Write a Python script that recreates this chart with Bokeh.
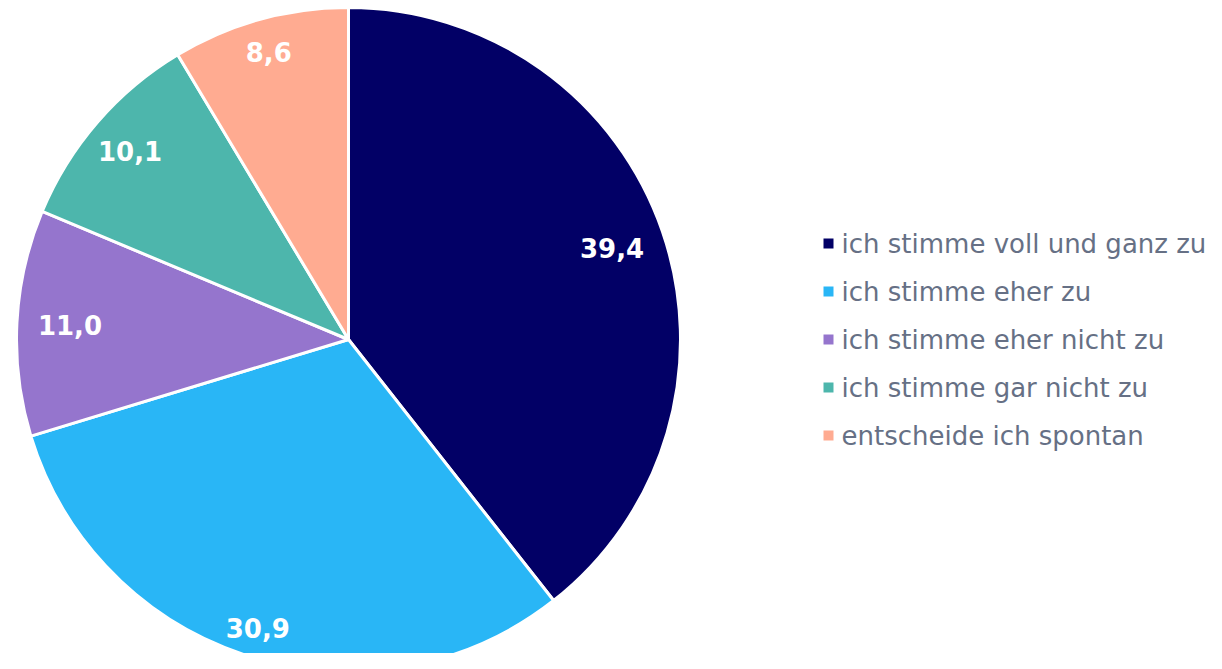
import math
from bokeh.plotting import figure
from bokeh.models import ColumnDataSource, Range1d
from bokeh.core.properties import value
from bokeh.embed import file_html
from bokeh.resources import INLINE

categories = ["ich stimme voll und ganz zu", "ich stimme eher zu", "ich stimme eher nicht zu",
              "ich stimme gar nicht zu", "entscheide ich spontan"]
values = [39.4, 30.9, 11.0, 10.1, 8.6]
labels = ["39,4", "30,9", "11,0", "10,1", "8,6"]
colors = ["#020066", "#29b6f6", "#9575cd", "#4db6ac", "#ffab91"]
label_radius = [0.84, 0.91, 0.84, 0.87, 0.90]

W, H = 1206, 653
cx, cy, r = 348, H - 339, 332

total = sum(values)
starts, ends, lx, ly = [], [], [], []
cum = 0.0
for v, f in zip(values, label_radius):
    a0 = math.pi / 2 - 2 * math.pi * cum / total
    a1 = math.pi / 2 - 2 * math.pi * (cum + v) / total
    starts.append(a0)
    ends.append(a1)
    mid = (a0 + a1) / 2
    lx.append(cx + f * r * math.cos(mid))
    ly.append(cy + f * r * math.sin(mid))
    cum += v

src = ColumnDataSource(dict(start=starts, end=ends, color=colors, lx=lx, ly=ly, label=labels))

p = figure(width=W, height=H, output_backend="svg", toolbar_location=None,
           x_range=Range1d(0, W), y_range=Range1d(0, H), min_border=0)
p.axis.visible = False
p.grid.visible = False
p.outline_line_color = None

p.wedge(x=cx, y=cy, radius=r, start_angle="end", end_angle="start",
        fill_color="color", line_color="white", line_width=3, source=src)
p.text(x="lx", y="ly", text="label", source=src, text_color="white",
       text_font=value("DejaVu Sans"), text_font_size="26px", text_font_style="bold",
       text_align="center", text_baseline="middle")

# legend
leg_x = 828
leg_y0 = H - 243
step = 48
ys = [leg_y0 - i * step for i in range(len(categories))]
lsrc = ColumnDataSource(dict(x=[leg_x] * len(categories), tx=[leg_x + 13] * len(categories),
                             y=ys, color=colors, cat=categories))
p.scatter(x="x", y="y", marker="square", size=10, fill_color="color", line_color=None, source=lsrc)
p.text(x="tx", y="y", text="cat", source=lsrc, text_color="#667085",
       text_font=value("DejaVu Sans"), text_font_size="26px",
       text_align="left", text_baseline="middle")

open("out.html", "w").write(file_html(p, INLINE))
